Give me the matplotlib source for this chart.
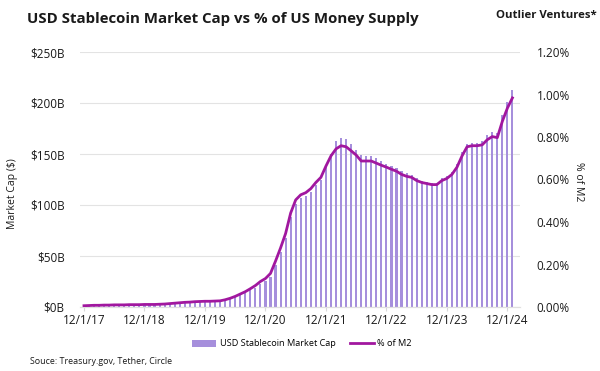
import matplotlib.pyplot as plt
from matplotlib.ticker import FuncFormatter
import numpy as np

plt.rcParams['font.family'] = ['Open Sans', 'DejaVu Sans']

# monthly, Dec 2017 .. Jan 2025
market_cap_b = [1.0, 1.2, 1.3, 1.4, 1.5, 1.6, 1.7, 1.7, 1.8, 1.9, 1.9, 2.0,
                2.1, 2.2, 2.3, 2.5, 2.7, 3.0, 3.4, 3.7, 4.0, 4.3, 4.6, 4.9,
                5.0, 5.1, 5.2, 5.4, 6.3, 7.6, 9.4, 11.4, 13.5, 16.2, 18.9, 22.5,
                25.2, 29.7, 41, 54, 68, 88, 101, 107, 109, 113, 120, 125,
                138, 150, 163, 166, 165, 160, 154, 149, 148, 148, 146, 143,
                140, 138, 136, 133, 131, 129, 126, 124, 123, 122, 122, 126,
                128, 132, 140, 152, 160, 161, 161, 163, 169, 172, 171, 188,
                201, 213]
pct_m2 = [0.006, 0.007, 0.008, 0.008, 0.009, 0.009, 0.010, 0.010, 0.010, 0.011, 0.011, 0.011,
          0.012, 0.012, 0.012, 0.013, 0.014, 0.016, 0.018, 0.020, 0.022, 0.023, 0.025, 0.026,
          0.027, 0.027, 0.028, 0.029, 0.034, 0.041, 0.050, 0.061, 0.072, 0.086, 0.101, 0.120,
          0.134, 0.158, 0.216, 0.278, 0.346, 0.442, 0.504, 0.528, 0.538, 0.557, 0.586, 0.610,
          0.663, 0.711, 0.744, 0.759, 0.754, 0.735, 0.715, 0.687, 0.687, 0.687, 0.677, 0.667,
          0.658, 0.648, 0.639, 0.624, 0.615, 0.610, 0.595, 0.586, 0.581, 0.576, 0.576, 0.595,
          0.605, 0.624, 0.658, 0.711, 0.754, 0.759, 0.759, 0.763, 0.787, 0.802, 0.797, 0.874,
          0.936, 0.984]
year_labels = ['12/1/17', '12/1/18', '12/1/19', '12/1/20', '12/1/21', '12/1/22', '12/1/23', '12/1/24']

bar_color = '#a68fdc'
line_color = '#a1179f'
text_color = '#1a1a1a'

x = np.arange(len(market_cap_b))

fig = plt.figure(figsize=(6, 3.71), dpi=100)
ax = fig.add_axes([80 / 600, 64 / 371, 440 / 600, 255 / 371])
ax2 = ax.twinx()

bars = ax.bar(x, market_cap_b, width=0.42, color=bar_color, zorder=2,
              label='USD Stablecoin Market Cap')
line, = ax2.plot(x, pct_m2, color=line_color, lw=2.0, zorder=3, label='% of M2')

ax.set_xlim(-0.79, 86.5)
ax.set_ylim(0, 250)
ax2.set_ylim(0, 1.2)
ax.set_yticks(np.arange(0, 251, 50))
ax2.set_yticks(np.arange(0, 1.21, 0.2))
ax.yaxis.set_major_formatter(FuncFormatter(lambda v, p: f'${v:.0f}B'))
ax2.yaxis.set_major_formatter(FuncFormatter(lambda v, p: f'{v:.2f}%'))
ax.set_xticks(np.arange(0, 85, 12))
ax.set_xticklabels(year_labels)

ax.grid(axis='y', color='#e3e3e3', lw=0.8, zorder=0)
for a in (ax, ax2):
    for s in ('top', 'left', 'right'):
        a.spines[s].set_visible(False)
    a.spines['bottom'].set_color('#e0e0e0')
ax.tick_params(axis='y', length=0, pad=11, labelsize=8.5, labelcolor=text_color)
ax2.tick_params(axis='y', length=0, pad=12, labelsize=8.5, labelcolor=text_color)
ax.tick_params(axis='x', length=3, color='#d9d9d9', pad=2, labelsize=8.5, labelcolor=text_color)

fig.text(12 / 600, 1 - 194 / 371, 'Market Cap ($)', rotation=90, ha='center', va='center',
         fontsize=7.5, color=text_color)
fig.text(579 / 600, 1 - 182 / 371, '% of M2', rotation=270, ha='center', va='center',
         fontsize=7.5, color=text_color)

fig.text(27 / 600, 1 - 19 / 371, 'USD Stablecoin Market Cap vs % of US Money Supply',
         ha='left', va='center', fontsize=10.8, fontweight='bold', color=text_color)
fig.text(597 / 600, 1 - 15 / 371, 'Outlier Ventures*', ha='right', va='center',
         fontsize=8.2, fontweight='bold', color=text_color)

fig.legend(handles=[bars, line], loc='center', bbox_to_anchor=(302 / 600, 1 - 344 / 371),
           ncol=2, frameon=False, fontsize=6.6, handlelength=2.6, handleheight=0.7,
           columnspacing=1.6, handletextpad=0.4)
fig.text(30 / 600, 1 - 362 / 371, 'Souce: Treasury.gov, Tether, Circle', ha='left', va='center',
         fontsize=6.4, color=text_color)

fig.savefig('out.png', dpi=100)
